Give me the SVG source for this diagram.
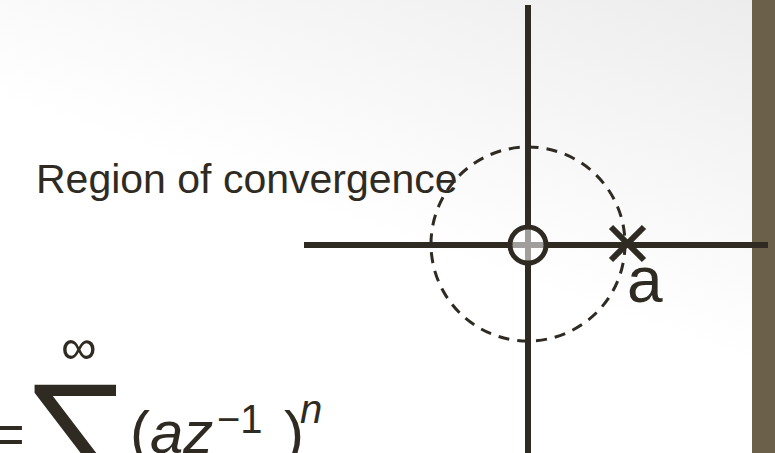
<svg xmlns="http://www.w3.org/2000/svg" width="775" height="453" viewBox="0 0 775 453">
<defs>
<linearGradient id="bg" x1="1" y1="0" x2="0.4" y2="1">
<stop offset="0" stop-color="#ececec"/>
<stop offset="0.6" stop-color="#ffffff"/>
<stop offset="1" stop-color="#ffffff"/>
</linearGradient>
<style>
.ax{stroke:#2f2b22;stroke-width:6;fill:none}
.t{font-family:"Liberation Sans",Arial,sans-serif;fill:#2f2b22}
.i{font-style:italic}
</style>
</defs>
<rect x="0" y="0" width="775" height="453" fill="url(#bg)"/>
<rect x="752" y="0" width="23" height="453" fill="#6b614a"/>
<g id="axes">
<line class="ax" x1="304" y1="245" x2="768" y2="245"/>
<line class="ax" x1="528" y1="5" x2="528" y2="453"/>
</g>
<g id="roc">
<circle cx="528" cy="244" r="97" fill="none" stroke="#2f2b22" stroke-width="3" stroke-dasharray="11 8"/>
</g>
<g id="zero">
<circle cx="528" cy="245" r="18" fill="#ffffff" fill-opacity="0.55" stroke="#2f2b22" stroke-width="5"/>
</g>
<g id="pole">
<line class="ax" x1="611" y1="227" x2="644" y2="260" stroke-width="5"/>
<line class="ax" x1="644" y1="227" x2="611" y2="260" stroke-width="5"/>
<text class="t" x="627" y="302" font-size="64">a</text>
</g>
<g id="label">
<text class="t" x="36" y="193" font-size="41">Region of convergence</text>
</g>
<g id="formula">
<text class="t" x="-8" y="453" font-size="56">=</text>
<text class="t" x="61" y="364" font-size="50">∞</text>
<text class="t" x="22" y="490" font-size="153">∑</text>
<text class="t" x="130" y="453" font-size="60">(</text>
<text class="t i" x="150" y="453" font-size="60">az</text>
<text class="t" x="217" y="433" font-size="40">−1</text>
<text class="t" x="284" y="453" font-size="60">)</text>
<text class="t i" x="300" y="423" font-size="40">n</text>
</g>
</svg>
